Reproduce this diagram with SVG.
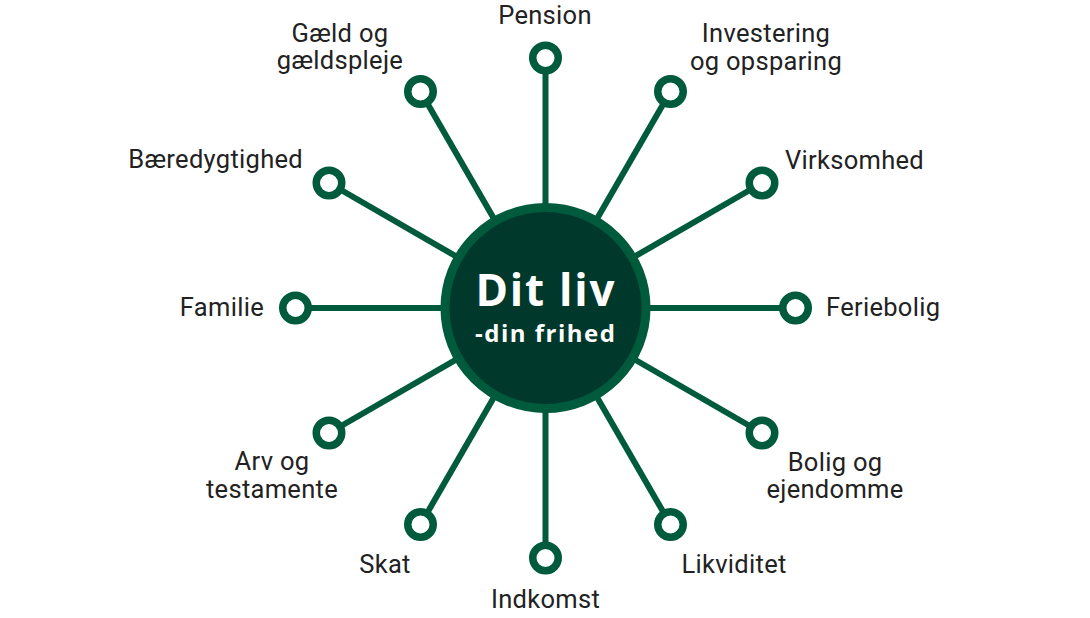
<svg xmlns="http://www.w3.org/2000/svg" width="1090" height="618" viewBox="0 0 1090 618">
<style>
.lbl{font-family:Roboto,"Liberation Sans",sans-serif;font-size:25.5px;letter-spacing:0.3px;fill:#222222}
.m{text-anchor:middle}
.e{text-anchor:end}
.link{stroke:#005a3c;stroke-width:6;fill:none}
.node{fill:#ffffff;stroke:#005a3c;stroke-width:7.5}
.ctr{font-family:"Open Sans","Liberation Sans",sans-serif;font-weight:bold;fill:#ffffff;text-anchor:middle}
</style>
<rect width="1090" height="618" fill="#ffffff"/>
<g id="connectors">
<line class="link" x1="545.5" y1="308" x2="545.5" y2="58"/>
<line class="link" x1="545.5" y1="308" x2="670.5" y2="91.5"/>
<line class="link" x1="545.5" y1="308" x2="762" y2="183"/>
<line class="link" x1="545.5" y1="308" x2="795.5" y2="308"/>
<line class="link" x1="545.5" y1="308" x2="762" y2="433"/>
<line class="link" x1="545.5" y1="308" x2="670.5" y2="524.5"/>
<line class="link" x1="545.5" y1="308" x2="545.5" y2="558"/>
<line class="link" x1="545.5" y1="308" x2="420.5" y2="524.5"/>
<line class="link" x1="545.5" y1="308" x2="329" y2="433"/>
<line class="link" x1="545.5" y1="308" x2="295.5" y2="308"/>
<line class="link" x1="545.5" y1="308" x2="329" y2="183"/>
<line class="link" x1="545.5" y1="308" x2="420.5" y2="91.5"/>
</g>
<g id="center">
<circle cx="545.5" cy="308" r="100.5" fill="#00382b" stroke="#005a3c" stroke-width="9"/>
<text class="ctr" x="545" y="306" font-size="44" textLength="139" lengthAdjust="spacing">Dit liv</text>
<text class="ctr" x="545" y="342" font-size="24" textLength="140" lengthAdjust="spacing">-din frihed</text>
</g>
<g id="pension"><circle class="node" cx="545.5" cy="58" r="12.75"/><text class="lbl m" x="545" y="24">Pension</text></g>
<g id="investering"><circle class="node" cx="670.5" cy="91.5" r="12.75"/><text class="lbl m" x="766" y="42">Investering</text><text class="lbl m" x="766" y="70">og opsparing</text></g>
<g id="virksomhed"><circle class="node" cx="762" cy="183" r="12.75"/><text class="lbl" x="785" y="169">Virksomhed</text></g>
<g id="feriebolig"><circle class="node" cx="795.5" cy="308" r="12.75"/><text class="lbl" x="826" y="316">Feriebolig</text></g>
<g id="bolig"><circle class="node" cx="762" cy="433" r="12.75"/><text class="lbl m" x="835" y="471">Bolig og</text><text class="lbl m" x="835" y="498">ejendomme</text></g>
<g id="likviditet"><circle class="node" cx="670.5" cy="524.5" r="12.75"/><text class="lbl m" x="734" y="573">Likviditet</text></g>
<g id="indkomst"><circle class="node" cx="545.5" cy="558" r="12.75"/><text class="lbl m" x="545.5" y="608">Indkomst</text></g>
<g id="skat"><circle class="node" cx="420.5" cy="524.5" r="12.75"/><text class="lbl m" x="385" y="573">Skat</text></g>
<g id="arv"><circle class="node" cx="329" cy="433" r="12.75"/><text class="lbl m" x="272" y="470">Arv og</text><text class="lbl m" x="272" y="498">testamente</text></g>
<g id="familie"><circle class="node" cx="295.5" cy="308" r="12.75"/><text class="lbl e" x="264" y="316">Familie</text></g>
<g id="baeredygtighed"><circle class="node" cx="329" cy="183" r="12.75"/><text class="lbl e" x="303" y="168">Bæredygtighed</text></g>
<g id="gaeld"><circle class="node" cx="420.5" cy="91.5" r="12.75"/><text class="lbl m" x="340" y="42">Gæld og</text><text class="lbl m" x="340" y="69">gældspleje</text></g>
</svg>
